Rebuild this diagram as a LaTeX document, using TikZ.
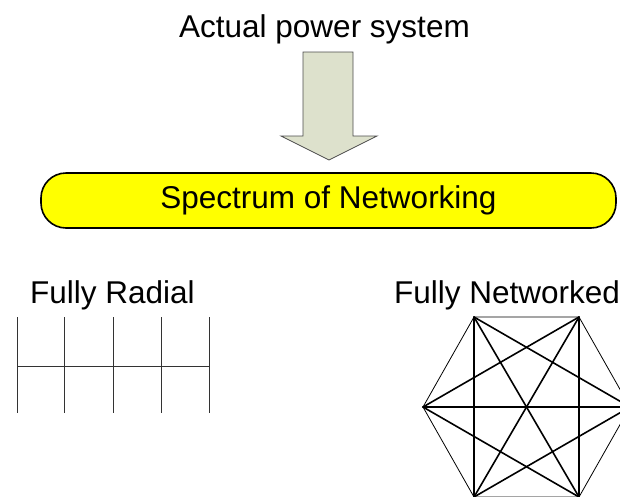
\documentclass[tikz,border=0pt]{standalone}
\usepackage{fontspec}
\setmainfont{Liberation Sans}
\begin{document}
\begin{tikzpicture}[x=1pt,y=-1pt,
  label text/.style={font=\fontsize{31.5}{36}\selectfont, inner sep=0pt, anchor=base},
  spectrum/.style={draw=black, line width=1.6pt, fill=baryellow, rounded corners=25pt,
    minimum width=575pt, minimum height=55pt, inner sep=0pt,
    font=\fontsize{31.5}{36}\selectfont},
  blockarrow/.style={draw=black!70, line width=0.8pt, fill=arrowfill},
  feeder/.style={draw=black!80, line width=0.9pt},
  ring/.style={draw=black, line width=0.8pt},
  link/.style={draw=black, line width=1.6pt, line cap=round}]
\definecolor{arrowfill}{HTML}{DDE1CC}
\definecolor{baryellow}{RGB}{255,255,0}
\useasboundingbox (0,0) rectangle (620,496);

% headings
\node[label text] (title) at (324.5,37) {Actual power system};
\node[label text] (radial) at (112.5,303) {Fully Radial};
\node[label text] (meshed) at (507,303) {Fully Networked};

% block arrow pointing down to the spectrum bar
\path[blockarrow] (303,52) -- (353,52) -- (353,136) -- (377,136) -- (329,160)
  -- (281,136) -- (303,136) -- cycle;

% spectrum bar
\node[spectrum] (bar) at (328.5,200.5) {Spectrum of Networking};

% radial feeder: one main line with five laterals
\foreach \i/\x in {1/17,2/64,3/113,4/161,5/209}{
  \coordinate (t\i) at (\x,317);
  \coordinate (b\i) at (\x,413);
  \coordinate (m\i) at (\x,366);
  \draw[feeder] (t\i) -- (b\i);
}
\draw[feeder] (m1) -- (m5);

% fully networked: hexagon with all diagonals
\coordinate (h1) at (474,317);
\coordinate (h2) at (579,317);
\coordinate (h3) at (630,407);
\coordinate (h4) at (579,497);
\coordinate (h5) at (474,497);
\coordinate (h6) at (423,407);
\draw[ring] (h1) -- (h2) -- (h3) -- (h4) -- (h5) -- (h6) -- cycle;
\foreach \a/\b in {1/3,1/4,1/5,2/4,2/5,2/6,3/5,3/6,4/6}{
  \draw[link] (h\a) -- (h\b);
}
\end{tikzpicture}
\end{document}
